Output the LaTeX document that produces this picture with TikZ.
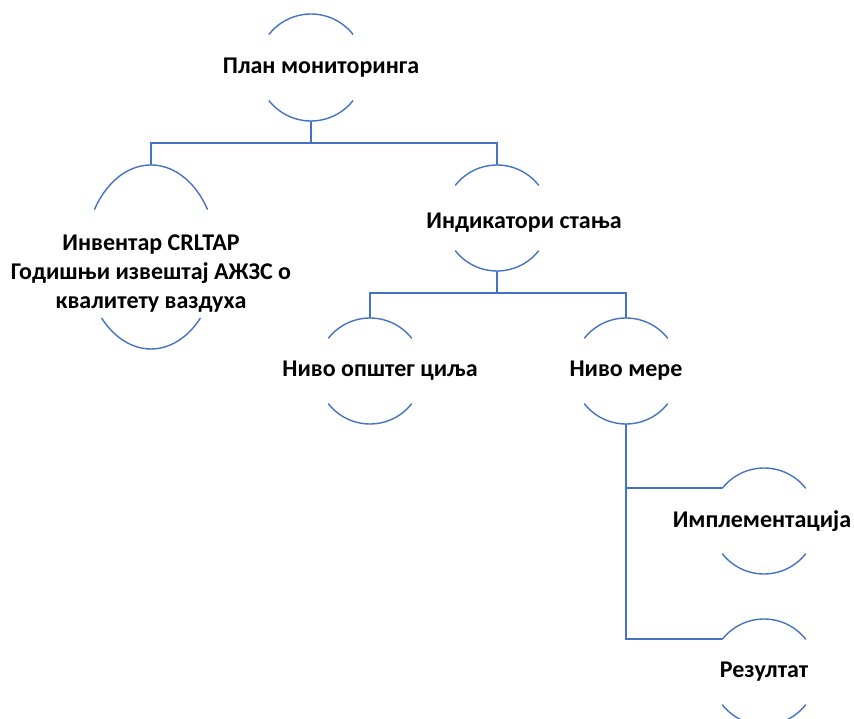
\documentclass[tikz,border=0pt]{standalone}
\usepackage{fontspec}
\setmainfont{Carlito}
\usepackage{tikz}
\usetikzlibrary{positioning}
\usetikzlibrary{shapes.geometric}
\usetikzlibrary{calc}
\usepackage{xcolor}
\definecolor{arcblue}{HTML}{4472C4}

\begin{document}
\begin{tikzpicture}[x=1pt, y=1pt,
        frame/.style={ellipse, inner sep=0pt, outer sep=0pt},
        arcline/.style={draw=arcblue, line width=1.4pt},
        conn/.style={draw=arcblue, line width=1.9pt},
        lbl/.style={font=\bfseries\fontsize{24}{29}\selectfont, align=center}]
        \useasboundingbox (0,0) rectangle (854,-719);
        \foreach \n/\px/\py/\rx/\ry/\t/\b in {plan/311/67.5/53.5/53.5/38/38, inv/151/257/66/92/31/41.5, ind/497/218/53/53/38/38, opst/370/371/53/53/38/38, mere/626/371/53/53/38/38, impl/764/521/53/53/38/38, rez/764/672/53/53/38/38}
        {
            \node[frame, minimum width=2*\rx, minimum height=2*\ry] (\n) at (\px,-\py) {};
            \draw[arcline] ($(\n)+({\t}:{\rx} and {\ry})$) arc[start angle=\t, end angle=180-\t, x radius=\rx, y radius=\ry];
            \draw[arcline] ($(\n)+({180+\b}:{\rx} and {\ry})$) arc[start angle=180+\b, end angle=360-\b, x radius=\rx, y radius=\ry];
        }
        \node[lbl] (plan-t) at ([xshift=10]plan) {План мониторинга};
        \node[lbl] (inv-t) at ([yshift=-16.5]inv) {Инвентар CRLTAP\\Годишњи извештај АЖЗС о\\квалитету ваздуха};
        \node[lbl] (ind-t) at ([xshift=27,yshift=-5]ind) {Индикатори стања};
        \node[lbl] (opst-t) at ([xshift=10]opst) {Ниво општег циља};
        \node[lbl] (mere-t) at (mere) {Ниво мере};
        \node[lbl] (impl-t) at ([xshift=-2]impl) {Имплементација};
        \node[lbl] (rez-t) at (rez) {Резултат};
        % connectors
        \draw[conn] (plan.south) -- ++(0,-22) coordinate (top-j);
        \draw[conn] (top-j) -| (inv.north);
        \draw[conn] (top-j) -| (ind.north);
        \draw[conn] (ind.south) -- ++(0,-22) coordinate (ind-j);
        \draw[conn] (ind-j) -| (opst.north);
        \draw[conn] (ind-j) -| (mere.north);
        \draw[conn] (mere.south) |- (impl.142);
        \draw[conn] (mere.south) |- (rez.142);
    \end{tikzpicture}
\end{document}
